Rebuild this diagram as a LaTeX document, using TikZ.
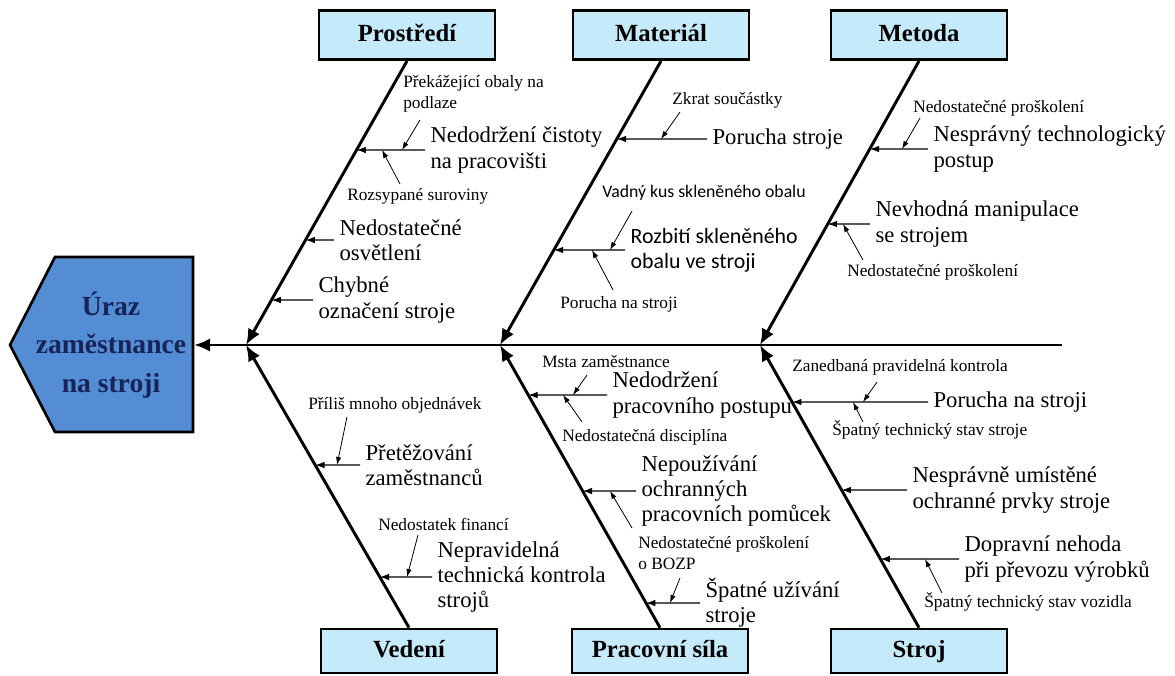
\documentclass[tikz,border=0pt]{standalone}
\usepackage{fontspec}
\setmainfont{Liberation Serif}
\newfontfamily\sansfam{Carlito}
\usetikzlibrary{arrows.meta,calc}
\definecolor{catblue}{RGB}{197,234,250}
\definecolor{headblue}{RGB}{84,141,212}
\definecolor{headtext}{RGB}{22,36,90}

\begin{document}
\begin{tikzpicture}[x=0.75pt,y=-0.75pt,
	cat/.style={draw,line width=2pt,fill=catblue,minimum width=132pt,minimum height=37pt,text height=13pt,text depth=4pt,font=\fontsize{18.5}{20}\selectfont\bfseries},
	cause/.style={anchor=west,align=left,inner xsep=4pt,inner ysep=0pt,font=\fontsize{17}{19}\selectfont},
	sub/.style={anchor=west,align=left,inner sep=0pt,font=\fontsize{13}{15.5}\selectfont},
	bone/.style={line width=2.2pt,-{Latex[length=12pt,width=10pt]}},
	twig/.style={line width=0.9pt,-{Latex[length=7pt,width=5pt]}},
	leaf/.style={line width=0.6pt,-{Latex[length=6pt,width=4pt]}}]

\useasboundingbox (0,0) rectangle (1175,675);

\draw[line width=2pt,fill=headblue] (10,345) -- (55,257) -- (193,257) -- (193,432) -- (55,432) -- cycle;
\node[align=center,text=headtext,font=\fontsize{20.7}{29}\selectfont\bfseries] (uraz) at (111,345) {Úraz\\zaměstnance\\na stroji};

\coordinate (head) at (194,345);
\coordinate (tail) at (1062,345);
\coordinate (j1) at (246,345);
\coordinate (j2) at (500,345);
\coordinate (j3) at (760,345);

\node[cat] (prostredi) at (407,35) {Prostředí};
\node[cat] (material) at (661,35) {Materiál};
\node[cat] (metoda) at (919,35) {Metoda};
\node[cat,minimum height=33pt] (vedeni) at (409,651) {Vedení};
\node[cat,minimum height=33pt] (prace) at (660,651) {Pracovní síla};
\node[cat,minimum height=33pt] (stroj) at (919,651) {Stroj};

\draw[bone] (tail) -- (head);
\path[bone] (prostredi.south) edge (j1)
		(material.south) edge (j2)
		(metoda.south) edge (j3)
		(vedeni.north) edge (j1)
		(prace.north) edge (j2)
		(stroj.north) edge (j3);

\node[cause] (p1) at (425,150) {Nedodržení čistoty\\na pracovišti};
\node[cause] (p2) at (334,240) {Nedostatečné\\osvětlení};
\node[cause] (p3) at (313,300) {Chybné\\označení stroje};
\node[sub] (p1a) at (403,94) {Překážející obaly na\\podlaze};
\node[sub] (p1b) at (347,196) {Rozsypané suroviny};

\node[cause] (m1) at (707,139) {Porucha stroje};
\node[cause,font=\sansfam\fontsize{16.4}{19}\selectfont] (m2) at (625,250) {Rozbití skleněného\\obalu ve stroji};
\node[sub] (m1a) at (672,100) {Zkrat součástky};
\node[sub,font=\sansfam\fontsize{13.3}{15.5}\selectfont] (m2a) at (602,193) {Vadný kus skleněného obalu};
\node[sub] (m2b) at (560,304) {Porucha na stroji};

\node[cause] (t1) at (928,149) {Nesprávný technologický\\postup};
\node[cause] (t2) at (870,224) {Nevhodná manipulace\\se strojem};
\node[sub] (t1a) at (913,108) {Nedostatečné proškolení};
\node[sub] (t2a) at (847,272) {Nedostatečné proškolení};

\node[cause] (v1) at (360,465) {Přetěžování\\zaměstnanců};
\node[cause] (v2) at (432,577) {Nepravidelná\\technická kontrola\\strojů};
\node[sub] (v1a) at (308,405) {Příliš mnoho objednávek};
\node[sub] (v2a) at (378,524) {Nedostatek financí};

\node[cause] (w1) at (607,395) {Nedodržení\\pracovního postupu};
\node[cause] (w2) at (636,491) {Nepoužívání\\ochranných\\pracovních pomůcek};
\node[cause] (w3) at (700,603) {Špatné užívání\\stroje};
\node[sub] (w1a) at (542,362) {Msta zaměstnance};
\node[sub] (w1b) at (562,437) {Nedostatečná disciplína};
\node[sub] (w2a) at (638,553) {Nedostatečné proškolení\\o BOZP};

\node[cause] (s1) at (928,402) {Porucha na stroji};
\node[cause] (s2) at (907,490) {Nesprávně umístěné\\ochranné prvky stroje};
\node[cause] (s3) at (959,559) {Dopravní nehoda\\při převozu výrobků};
\node[sub] (s1a) at (792,367) {Zanedbaná pravidelná kontrola};
\node[sub] (s1b) at (832,430) {Špatný technický stav stroje};
\node[sub] (s3a) at (924,602) {Špatný technický stav vozidla};

\draw[twig] (p1.west) -- (intersection of prostredi.south--j1 and p1.west--p1.east);
\draw[twig] (p2.west) -- (intersection of prostredi.south--j1 and p2.west--p2.east);
\draw[twig] (p3.west) -- (intersection of prostredi.south--j1 and p3.west--p3.east);
\draw[twig] (m1.west) -- (intersection of material.south--j2 and m1.west--m1.east);
\draw[twig] (m2.west) -- (intersection of material.south--j2 and m2.west--m2.east);
\draw[twig] (t1.west) -- (intersection of metoda.south--j3 and t1.west--t1.east);
\draw[twig] (t2.west) -- (intersection of metoda.south--j3 and t2.west--t2.east);
\draw[twig] (v1.west) -- (intersection of vedeni.north--j1 and v1.west--v1.east);
\draw[twig] (v2.west) -- (intersection of vedeni.north--j1 and v2.west--v2.east);
\draw[twig] (w1.west) -- (intersection of prace.north--j2 and w1.west--w1.east);
\draw[twig] (w2.west) -- (intersection of prace.north--j2 and w2.west--w2.east);
\draw[twig] (w3.west) -- (intersection of prace.north--j2 and w3.west--w3.east);
\draw[twig] (s1.west) -- (intersection of stroj.north--j3 and s1.west--s1.east);
\draw[twig] (s2.west) -- (intersection of stroj.north--j3 and s2.west--s2.east);
\draw[twig] (s3.west) -- (intersection of stroj.north--j3 and s3.west--s3.east);

\draw[leaf] ($(p1a.west)+(17,26)$) -- ($(p1.west)+(-23,0)$);
\draw[leaf] ($(p1b.west)+(53,-12)$) -- ($(p1.west)+(-43,0)$);
\draw[leaf] ($(m1a.west)+(8,12)$) -- ($(m1.west)+(-46,0)$);
\draw[leaf] ($(m2a.west)+(30,18)$) -- ($(m2.west)+(-15,0)$);
\draw[leaf] ($(m2b.west)+(53,-14)$) -- ($(m2.west)+(-33,0)$);
\draw[leaf] ($(t1a.west)+(7,10)$) -- ($(t1.west)+(-26,0)$);
\draw[leaf] ($(t2a.west)+(16,-12)$) -- ($(t2.west)+(-27,0)$);
\draw[leaf] ($(v1a.west)+(39,12)$) -- ($(v1.west)+(-23,0)$);
\draw[leaf] ($(v2a.west)+(40,11)$) -- ($(v2.west)+(-25,0)$);
\draw[leaf] ($(w1a.west)+(45,13)$) -- ($(w1.west)+(-34,0)$);
\draw[leaf] ($(w1b.west)+(20,-15)$) -- ($(w1.west)+(-44,0)$);
\draw[leaf] ($(w2a.west)+(-6,-25)$) -- ($(w2.west)+(-26,0)$);
\draw[leaf] ($(w2a.west)+(42,25)$) -- ($(w3.west)+(-30,0)$);
\draw[leaf] ($(s1a.west)+(85,15)$) -- ($(s1.west)+(-65,0)$);
\draw[leaf] ($(s1b.west)+(31,-8)$) -- ($(s1.west)+(-75,0)$);
\draw[leaf] ($(s3a.west)+(18,-9)$) -- ($(s3.west)+(-34,0)$);
\end{tikzpicture}
\end{document}
